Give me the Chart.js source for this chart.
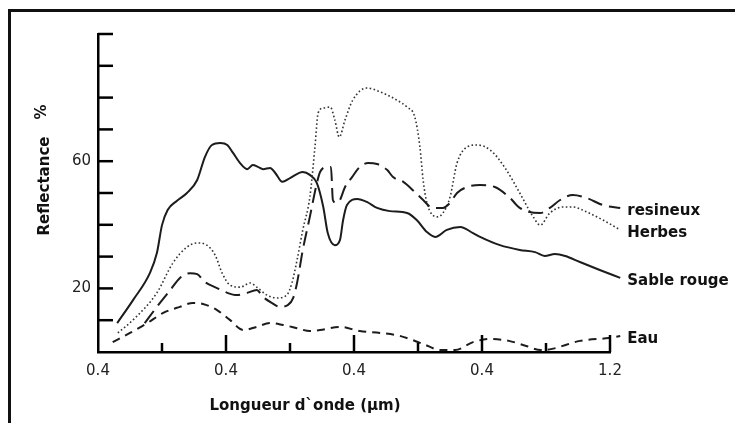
<!DOCTYPE html>
<html>
<head>
<meta charset="utf-8">
<script src="https://cdn.jsdelivr.net/npm/chart.js@4.4.0/dist/chart.umd.min.js"></script>
<style>
    html, body { margin: 0; padding: 0; background: #fff; }
    #wrap { position: relative; width: 735px; height: 423px; }
</style>
</head>
<body>
<div id="wrap"><canvas id="spectraChart"></canvas></div>
<script>
// Reflectance (%), per wavelength (µm)
const sableX = [0.430, 0.455, 0.481, 0.492, 0.500, 0.509, 0.523, 0.539, 0.555, 0.567, 0.578, 0.591, 0.602, 0.611, 0.622, 0.633, 0.642, 0.650, 0.658, 0.669, 0.677, 0.688, 0.700, 0.720, 0.731, 0.742, 0.752, 0.759, 0.770, 0.778, 0.783, 0.789, 0.805, 0.820, 0.836, 0.856, 0.883, 0.898, 0.914, 0.927, 0.945, 0.966, 0.986, 0.997, 1.028, 1.059, 1.083, 1.098, 1.114, 1.130, 1.153, 1.184, 1.216];
const sableY = [9.1, 16.4, 24.8, 31.1, 39.9, 44.7, 47.5, 50.0, 54.1, 61.3, 65.1, 65.7, 65.1, 62.6, 59.4, 57.5, 58.8, 58.2, 57.5, 57.9, 56.3, 53.5, 54.7, 56.6, 55.7, 53.1, 45.6, 37.4, 33.6, 35.2, 41.5, 46.2, 48.1, 47.2, 45.3, 44.3, 43.7, 41.5, 37.7, 36.2, 38.4, 39.3, 37.4, 36.2, 33.6, 32.1, 31.4, 30.2, 30.8, 30.2, 28.3, 25.8, 23.3];

const herbesX = [0.431, 0.458, 0.492, 0.517, 0.539, 0.555, 0.570, 0.583, 0.594, 0.606, 0.622, 0.638, 0.648, 0.664, 0.680, 0.695, 0.703, 0.711, 0.720, 0.731, 0.739, 0.744, 0.752, 0.763, 0.770, 0.777, 0.786, 0.798, 0.820, 0.841, 0.867, 0.883, 0.895, 0.903, 0.908, 0.914, 0.930, 0.939, 0.950, 0.961, 0.977, 0.992, 1.013, 1.036, 1.059, 1.080, 1.091, 1.106, 1.127, 1.142, 1.164, 1.189, 1.216];
const herbesY = [6.0, 10.7, 18.6, 28.0, 33.0, 34.3, 33.6, 30.5, 24.8, 21.1, 20.4, 21.7, 20.4, 17.9, 17.0, 17.9, 21.7, 28.9, 38.4, 48.7, 64.5, 75.2, 76.7, 77.0, 73.0, 67.6, 73.0, 79.2, 83.0, 81.8, 79.2, 77.0, 73.9, 64.5, 54.1, 46.9, 42.5, 43.7, 48.7, 59.4, 64.5, 65.1, 63.5, 57.9, 50.0, 42.5, 39.9, 43.7, 45.6, 45.6, 44.0, 41.5, 38.4];

const resineuxX = [0.473, 0.492, 0.513, 0.528, 0.544, 0.555, 0.567, 0.586, 0.602, 0.617, 0.633, 0.648, 0.658, 0.672, 0.684, 0.697, 0.705, 0.711, 0.720, 0.731, 0.742, 0.747, 0.758, 0.764, 0.767, 0.772, 0.778, 0.786, 0.797, 0.809, 0.822, 0.836, 0.852, 0.861, 0.877, 0.892, 0.908, 0.923, 0.939, 0.950, 0.961, 0.977, 0.997, 1.020, 1.044, 1.059, 1.091, 1.106, 1.122, 1.142, 1.164, 1.189, 1.216];
const resineuxY = [9.1, 14.2, 19.5, 23.3, 24.8, 24.5, 22.0, 20.1, 18.6, 17.9, 18.6, 19.5, 17.3, 15.4, 14.2, 14.8, 17.0, 21.7, 32.1, 42.5, 53.1, 56.6, 58.2, 58.2, 47.8, 46.9, 47.8, 51.9, 55.0, 58.2, 59.4, 59.1, 57.2, 55.0, 53.5, 50.9, 47.8, 45.3, 45.3, 46.9, 50.0, 51.9, 52.5, 51.9, 48.4, 45.3, 43.7, 45.3, 47.8, 49.4, 48.4, 46.2, 45.3];

const eauX = [0.423, 0.450, 0.477, 0.502, 0.528, 0.548, 0.564, 0.586, 0.606, 0.627, 0.648, 0.669, 0.689, 0.711, 0.731, 0.747, 0.778, 0.809, 0.841, 0.873, 0.908, 0.936, 0.958, 0.986, 1.013, 1.042, 1.069, 1.092, 1.108, 1.153, 1.198, 1.216];
const eauY = [3.1, 6.0, 9.1, 12.3, 14.2, 15.4, 15.1, 13.2, 10.1, 6.9, 7.9, 9.1, 8.5, 7.5, 6.6, 6.9, 7.9, 6.6, 6.0, 5.0, 2.5, 0.6, 0.6, 3.1, 4.1, 3.5, 1.9, 0.6, 0.9, 3.5, 4.4, 5.0];

// Tick labels as printed on the original figure
const xTickLabels = ['0.4', '0.4', '0.4', '0.4', '1.2'];
const yTickLabels = { 20: '20', 60: '60' };

const INK = '#1c1c1c';

function toPoints(xs, ys) {
    return xs.map((x, i) => ({ x: x, y: ys[i] }));
}

// Frame, inward tick marks, axis titles and curve labels
const decorPlugin = {
    id: 'decor',
    afterDraw(chart) {
        const ctx = chart.ctx;
        const area = chart.chartArea;
        const xs = chart.scales.x;
        const ys = chart.scales.y;
        ctx.save();

        // outer frame (top + left only)
        ctx.strokeStyle = '#111';
        ctx.lineWidth = 3;
        ctx.beginPath();
        ctx.moveTo(9.5, 423);
        ctx.lineTo(9.5, 10.5);
        ctx.lineTo(735, 10.5);
        ctx.stroke();

        // inward ticks
        ctx.lineWidth = 2.5;
        ctx.strokeStyle = '#000';
        xs.ticks.forEach((t, i) => {
            if (i === 0) return;
            const px = xs.getPixelForValue(t.value);
            const len = i % 2 === 0 ? 17 : 9;
            ctx.beginPath();
            ctx.moveTo(px, area.bottom);
            ctx.lineTo(px, area.bottom - len);
            ctx.stroke();
        });
        ys.ticks.forEach(t => {
            if (t.value === 0) return;
            const py = ys.getPixelForValue(t.value);
            ctx.beginPath();
            ctx.moveTo(area.left, py);
            ctx.lineTo(area.left + 15, py);
            ctx.stroke();
        });

        // curve labels at the right end of each line
        ctx.fillStyle = '#111';
        ctx.font = 'bold 15px "DejaVu Sans"';
        ctx.textBaseline = 'middle';
        ctx.textAlign = 'left';
        chart.data.datasets.forEach((ds, i) => {
            const meta = chart.getDatasetMeta(i);
            const last = meta.data[meta.data.length - 1];
            ctx.fillText(ds.label, last.x + 7, last.y + 3);
        });

        // axis titles
        ctx.textAlign = 'center';
        ctx.fillText('Longueur d`onde (µm)', 305, 406);

        ctx.save();
        ctx.translate(45, 186);
        ctx.rotate(-Math.PI / 2);
        ctx.fillText('Reflectance', 0, 0);
        ctx.restore();

        ctx.save();
        ctx.translate(42, 112);
        ctx.rotate(-Math.PI / 2);
        ctx.fillText('%', 0, 0);
        ctx.restore();

        ctx.restore();
    }
};

const baseLine = {
    fill: false,
    pointRadius: 0,
    borderColor: INK,
    cubicInterpolationMode: 'monotone',
    clip: false
};

new Chart(document.getElementById('spectraChart'), {
    type: 'line',
    data: {
        datasets: [
            Object.assign({}, baseLine, {
                label: 'resineux',
                data: toPoints(resineuxX, resineuxY),
                borderWidth: 2,
                borderDash: [15, 7]
            }),
            Object.assign({}, baseLine, {
                label: 'Herbes',
                data: toPoints(herbesX, herbesY),
                borderWidth: 1.6,
                borderColor: '#333',
                borderDash: [1.6, 2.4]
            }),
            Object.assign({}, baseLine, {
                label: 'Sable rouge',
                data: toPoints(sableX, sableY),
                borderWidth: 2
            }),
            Object.assign({}, baseLine, {
                label: 'Eau',
                data: toPoints(eauX, eauY),
                borderWidth: 2,
                borderDash: [8, 6]
            })
        ]
    },
    options: {
        responsive: true,
        maintainAspectRatio: false,
        animation: false,
        events: [],
        layout: {
            padding: { left: 0, right: 125, top: 34, bottom: 31 }
        },
        plugins: {
            legend: { display: false },
            tooltip: { enabled: false }
        },
        scales: {
            x: {
                type: 'linear',
                min: 0.4,
                max: 1.2,
                afterFit: scale => { scale.height = 40; },
                border: { display: true, color: '#000', width: 2.5 },
                grid: { display: false, drawTicks: false },
                ticks: {
                    stepSize: 0.1,
                    autoSkip: false,
                    maxRotation: 0,
                    padding: 10,
                    color: '#222',
                    font: { family: 'DejaVu Sans', size: 15 },
                    callback: (value, index) => index % 2 === 0 ? xTickLabels[index / 2] : ''
                }
            },
            y: {
                min: 0,
                max: 100,
                afterFit: scale => { scale.width = 98; },
                border: { display: true, color: '#000', width: 2.5 },
                grid: { display: false, drawTicks: false },
                ticks: {
                    stepSize: 10,
                    autoSkip: false,
                    padding: 7,
                    color: '#222',
                    font: { family: 'DejaVu Sans', size: 15 },
                    callback: value => yTickLabels[value] || ''
                }
            }
        }
    },
    plugins: [decorPlugin]
});
</script>
</body>
</html>
